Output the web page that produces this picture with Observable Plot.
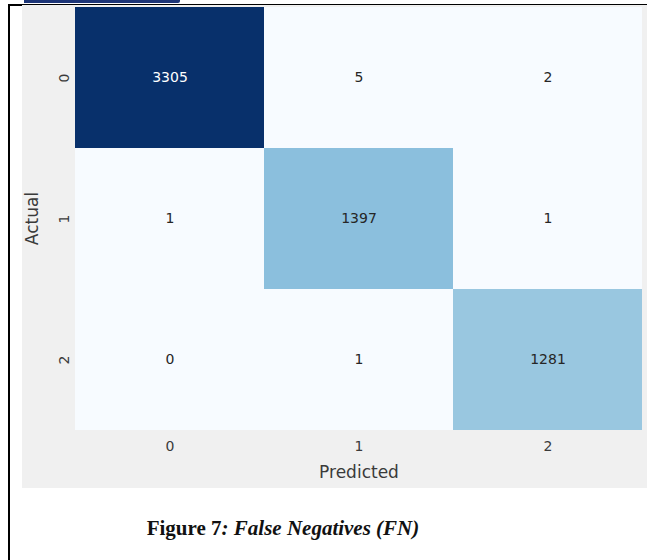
<!DOCTYPE html>
<html>
<head>
<meta charset="utf-8">
<script src="https://cdn.jsdelivr.net/npm/d3@7"></script>
<script src="https://cdn.jsdelivr.net/npm/@observablehq/plot@0.6"></script>
<style>
  html, body { margin: 0; padding: 0; background: #fff; }
  #page { position: relative; width: 647px; height: 560px; overflow: hidden; background: #fff; }
  #link { position: absolute; left: 24px; top: 0px; width: 156px; height: 3px; background: #1d3577; border-radius: 0 0 2px 0; }
  #frame { position: absolute; left: 8px; top: 4px; width: 660px; height: 600px; border-top: 2px solid #000; border-left: 2px solid #000; }
  #fig { position: absolute; left: 22px; top: 5px; width: 625px; height: 483px; background: #f0f0f0; }
  #fig svg { display: block; }
  #caption { position: absolute; left: 0; width: 566px; top: 516px; text-align: center; font-family: "Liberation Serif", "DejaVu Serif", serif; font-weight: bold; font-size: 21px; color: #111; }
  #caption i { font-style: italic; }
</style>
</head>
<body>
<div id="page">
  <div id="frame"></div>
  <div id="link"></div>
  <div id="fig"></div>
  <div id="caption">Figure 7<i>: False Negatives (FN)</i></div>
</div>
<script>
const predicted = ["0", "1", "2"];
const actual = ["0", "1", "2"];
const counts = [
  [3305, 5, 2],
  [1, 1397, 1],
  [0, 1, 1281]
];
const blues9 = ["#f7fbff","#deebf7","#c6dbef","#9ecae1","#6baed6","#4292c6","#2171b5","#08519c","#08306b"];

const table = [];
actual.forEach((a, i) => predicted.forEach((p, j) => table.push({actual: a, predicted: p, value: counts[i][j]})));
const vmax = d3.max(table, d => d.value);

const chart = Plot.plot({
  width: 625,
  height: 483,
  marginLeft: 53,
  marginRight: 5,
  marginTop: 1,
  marginBottom: 58,
  style: {fontFamily: "DejaVu Sans", fontSize: "14px", color: "#3a3a3a", background: "transparent"},
  x: {domain: predicted, padding: 0},
  y: {domain: actual, padding: 0},
  color: {type: "linear", domain: [0, vmax], interpolate: d3.piecewise(d3.interpolateRgb, blues9)},
  marks: [
    Plot.cell(table, {x: "predicted", y: "actual", fill: "value", inset: 0}),
    Plot.text(table, {x: "predicted", y: "actual", text: d => String(d.value), fill: d => d.value > vmax / 2 ? "#ffffff" : "#262626", fontSize: 14}),
    Plot.axisX({tickSize: 0, tickPadding: 11, fontSize: 14, label: "Predicted", labelAnchor: "center", labelOffset: 47, labelArrow: "none"}),
    Plot.axisY({tickSize: 0, tickPadding: 7, tickRotate: -90, fontSize: 14, label: "Actual", labelAnchor: "center", labelOffset: 50, labelArrow: "none"})
  ]
});
chart.querySelectorAll('[aria-label="x-axis label"] text, [aria-label="y-axis label"] text').forEach(t => t.style.fontSize = "17px");
document.getElementById("fig").appendChild(chart);
</script>
</body>
</html>
